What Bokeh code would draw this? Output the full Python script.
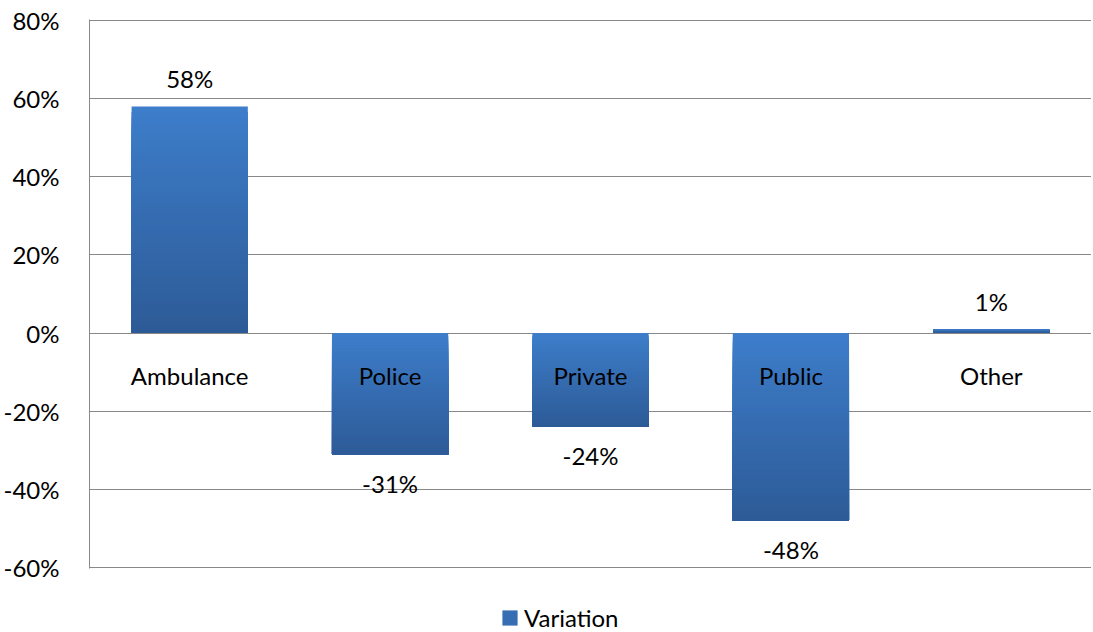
from bokeh.plotting import figure
from bokeh.layouts import column
from bokeh.models import (FactorRange, Range1d, NumeralTickFormatter, FixedTicker,
                          Legend, LegendItem)
from bokeh.core.properties import value
from bokeh.embed import file_html
from bokeh.resources import INLINE

categories = ["Ambulance", "Police", "Private", "Public", "Other"]
variation = [0.58, -0.31, -0.24, -0.48, 0.01]
label_texts = ["58%", "-31%", "-24%", "-48%", "1%"]
y_ticks = [-0.6, -0.4, -0.2, 0.0, 0.2, 0.4, 0.6, 0.8]
series_name = "Variation"

FONT = "Lato"
FS = "24px"
TOP_RGB = (0x3D, 0x7D, 0xCA)
BOT_RGB = (0x2D, 0x5B, 0x97)
BAR_W = 0.58
N = 40

p = figure(x_range=FactorRange(factors=categories, range_padding=0),
           y_range=Range1d(-0.6025, 0.8025),
           width=1091, height=581,
           output_backend="svg", toolbar_location=None,
           min_border_left=88, min_border_right=0, min_border_top=19,
           min_border_bottom=13)
p.outline_line_color = None
p.xgrid.grid_line_color = None
p.xaxis.visible = False

p.yaxis.ticker = FixedTicker(ticks=y_ticks)
p.yaxis.formatter = NumeralTickFormatter(format="0%")
p.yaxis.major_tick_line_color = None
p.yaxis.minor_tick_line_color = None
p.yaxis.axis_line_color = "#888888"
p.yaxis.major_label_text_font = FONT
p.yaxis.major_label_text_font_size = FS
p.yaxis.major_label_text_color = "black"
p.yaxis.major_label_standoff = 24
p.ygrid.grid_line_color = "#888888"
p.ygrid.grid_line_width = 1
p.ygrid.ticker = FixedTicker(ticks=y_ticks)


def hexcol(t):
    r = round(TOP_RGB[0] + (BOT_RGB[0] - TOP_RGB[0]) * t)
    g = round(TOP_RGB[1] + (BOT_RGB[1] - TOP_RGB[1]) * t)
    b = round(TOP_RGB[2] + (BOT_RGB[2] - TOP_RGB[2]) * t)
    return "#%02x%02x%02x" % (r, g, b)

# gradient bars: layered slices, each covering from its top down to the bar bottom
xs, tops, bottoms, cols = [], [], [], []
for k in range(N):
    for c, v in zip(categories, variation):
        hi, lo = max(0.0, v), min(0.0, v)
        xs.append(c)
        tops.append(hi - (hi - lo) * k / N)
        bottoms.append(lo)
        cols.append(hexcol(k / (N - 1)))
p.vbar(x=xs, top=tops, bottom=bottoms, width=BAR_W, fill_color=cols, line_color=None)

# value labels
pos_c = [c for c, v in zip(categories, variation) if v >= 0]
pos_v = [v for v in variation if v >= 0]
pos_t = [t for t, v in zip(label_texts, variation) if v >= 0]
neg_c = [c for c, v in zip(categories, variation) if v < 0]
neg_v = [v for v in variation if v < 0]
neg_t = [t for t, v in zip(label_texts, variation) if v < 0]
p.text(x=pos_c, y=pos_v, text=pos_t, text_align="center", text_baseline="middle",
       y_offset=-28, text_font=value(FONT), text_font_size=FS, text_color="black")
p.text(x=neg_c, y=neg_v, text=neg_t, text_align="center", text_baseline="middle",
       y_offset=29, text_font=value(FONT), text_font_size=FS, text_color="black")

# category labels at the zero line
p.text(x=categories, y=[0.0] * len(categories), text=categories, text_align="center",
       text_baseline="middle", y_offset=42, text_font=value(FONT), text_font_size=FS,
       text_color="black")

# legend strip under the chart (series drawn out of view, only its legend shows)
p2 = figure(width=1091, height=51, output_backend="svg", toolbar_location=None,
            x_range=FactorRange(factors=categories, range_padding=0),
            y_range=Range1d(10, 11),
            x_axis_location=None, y_axis_location=None,
            min_border_left=0, min_border_right=0, min_border_top=0,
            min_border_bottom=0)
p2.outline_line_color = None
p2.grid.visible = False
proxy = p2.vbar(x=categories, top=variation, width=BAR_W,
                fill_color=hexcol(0.45), line_color=None)
legend = Legend(items=[LegendItem(label=series_name, renderers=[proxy])],
                location=(411, 0), orientation="horizontal",
                border_line_color=None, background_fill_alpha=0,
                padding=0, margin=0, glyph_width=19, glyph_height=19,
                label_standoff=5, label_text_font=FONT, label_text_font_size=FS,
                label_text_color="black", label_text_baseline="middle")
p2.add_layout(legend, "center")

layout = column(p, p2, spacing=0)
open("out.html", "w").write(file_html(layout, INLINE))
